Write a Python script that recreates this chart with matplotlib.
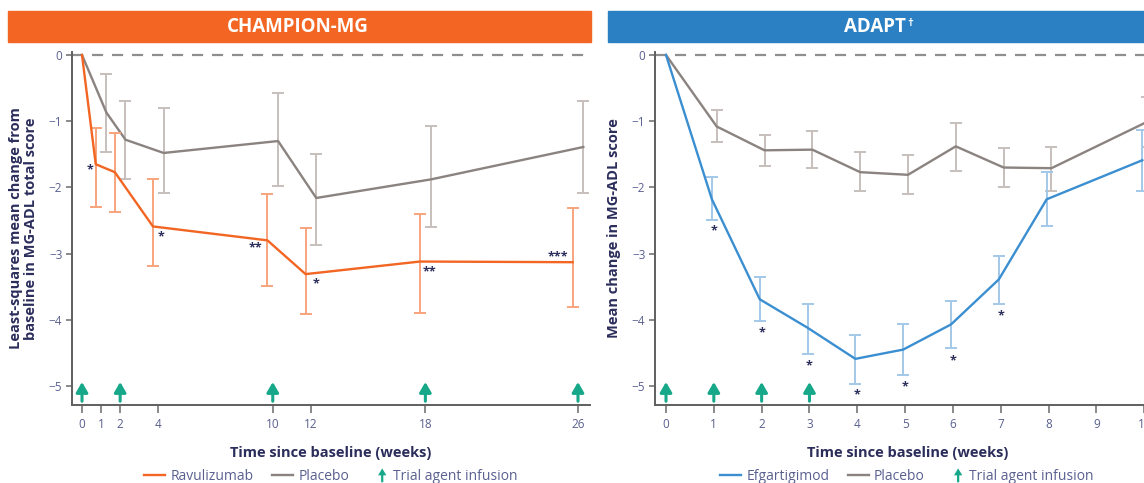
import numpy as np
import matplotlib.pyplot as plt
import matplotlib.patches as mpatches
from matplotlib.lines import Line2D
from matplotlib.legend_handler import HandlerPatch

plt.rcParams['font.family'] = ['Open Sans', 'DejaVu Sans']

# ---- CHAMPION-MG (ravulizumab vs placebo) ----
champ_weeks = [0, 1, 2, 4, 10, 12, 18, 26]
ravu_mean = [0, -1.65, -1.77, -2.59, -2.80, -3.31, -3.12, -3.13]
ravu_hi = [0, -1.10, -1.18, -1.88, -2.10, -2.62, -2.40, -2.31]
ravu_lo = [0, -2.29, -2.37, -3.19, -3.49, -3.92, -3.89, -3.80]
champ_pbo_mean = [0, -0.87, -1.28, -1.48, -1.30, -2.16, -1.88, -1.39]
champ_pbo_hi = [0, -0.29, -0.69, -0.80, -0.57, -1.49, -1.08, -0.69]
champ_pbo_lo = [0, -1.47, -1.88, -2.08, -1.98, -2.87, -2.60, -2.08]
champ_infusions = [0, 2, 10, 18, 26]
champ_ticks = [0, 1, 2, 4, 10, 12, 18, 26]
champ_stars = ['*', '*', '**', '*', '**', '***']
champ_star_x = [0.40, 4.16, 9.1, 12.27, 18.2, 24.96]
champ_star_y = [-1.74, -2.75, -2.91, -3.45, -3.27, -3.05]

# ---- ADAPT (efgartigimod vs placebo) ----
adapt_weeks = [0, 1, 2, 3, 4, 5, 6, 7, 8, 10]
efg_mean = [0, -2.18, -3.69, -4.12, -4.59, -4.45, -4.07, -3.39, -2.18, -1.59]
efg_hi = [0, -1.84, -3.35, -3.76, -4.23, -4.07, -3.72, -3.04, -1.77, -1.13]
efg_lo = [0, -2.49, -4.02, -4.52, -4.97, -4.84, -4.43, -3.76, -2.58, -2.06]
adapt_pbo_mean = [0, -1.08, -1.44, -1.43, -1.77, -1.81, -1.38, -1.70, -1.71, -1.01]
adapt_pbo_hi = [0, -0.83, -1.21, -1.15, -1.47, -1.51, -1.03, -1.40, -1.39, -0.63]
adapt_pbo_lo = [0, -1.31, -1.67, -1.71, -2.06, -2.10, -1.76, -2.00, -2.05, -1.39]
adapt_infusions = [0, 1, 2, 3]
adapt_ticks = list(range(0, 11))
adapt_stars = ['*'] * 7
adapt_star_x = [1, 2, 3, 4, 5, 6, 7]
adapt_star_y = [-2.66, -4.20, -4.70, -5.14, -5.02, -4.62, -3.94]

ORANGE = '#f26522'
ORANGE_LT = '#f7a47c'
BLUE = '#3b8fd1'
BLUE_LT = '#a3c8e8'
GREY = '#8a8380'
GREY_LT = '#c7bfbc'
TEAL = '#17a88a'
NAVY = '#2b2d5b'
TICKLAB = '#5a6090'
SPINE = '#5f5f5f'

W, H = 1144, 483
fig = plt.figure(figsize=(W / 100, H / 100), dpi=100)


def px_axes(x0, y0, x1, y1):
    # pixel box (from top-left) -> figure axes
    return fig.add_axes([x0 / W, 1 - y1 / H, (x1 - x0) / W, (y1 - y0) / H])


def draw_series(ax, weeks, mean, hi, lo, color, ecolor, dx, z):
    x = np.array([w + dx if w > 0 else w for w in weeks], dtype=float)
    m = np.array(mean)
    ax.errorbar(x[1:], m[1:], yerr=[m[1:] - np.array(lo[1:]), np.array(hi[1:]) - m[1:]],
                fmt='none', ecolor=ecolor, elinewidth=1.4, capsize=4.5, capthick=1.4, zorder=z)
    ax.plot(x, m, color=color, lw=1.7, zorder=z + 1)


def style_axes(ax, xlim, ticks, ylabel):
    ax.set_xlim(*xlim)
    ax.set_ylim(-5.287, 0.045)
    ax.set_xticks(ticks)
    ax.set_yticks([0, -1, -2, -3, -4, -5])
    for s in ['top', 'right']:
        ax.spines[s].set_visible(False)
    for s in ['left', 'bottom']:
        ax.spines[s].set_color(SPINE)
        ax.spines[s].set_linewidth(1.4)
    ax.tick_params(axis='x', length=6, width=1.4, color='#8a8a8a', labelcolor=TICKLAB,
                   labelsize=8.5, pad=3)
    ax.tick_params(axis='y', length=4, width=1.4, color='#8a8a8a', labelcolor=TICKLAB,
                   labelsize=8.5, pad=3)
    ax.axhline(0, color='#8e8e8e', lw=1.6, ls=(0, (5, 4)), zorder=1)
    ax.set_xlabel('Time since baseline (weeks)', fontsize=10.5, fontweight='bold',
                  color=NAVY, labelpad=11)
    ax.set_ylabel(ylabel, fontsize=10.5, fontweight='bold', color=NAVY, labelpad=8,
                  linespacing=1.05)


def draw_infusions(ax, weeks):
    for w in weeks:
        ax.annotate('', xy=(w, -4.94), xytext=(w, -5.23),
                    arrowprops=dict(arrowstyle='-|>,head_width=0.35,head_length=0.6',
                                    color=TEAL, lw=2.2, shrinkA=0, shrinkB=0), zorder=5)


def draw_stars(ax, xs, ys, labels):
    for x, y, t in zip(xs, ys, labels):
        ax.text(x, y, t, ha='center', va='center', fontsize=9, fontweight='bold',
                color=NAVY, zorder=6)


def arrow_patch(legend, orig_handle, xdescent, ydescent, width, height, fontsize):
    return mpatches.FancyArrow(width - 4 - xdescent, -ydescent - 2, 0, height + 3,
                               width=1.6, head_width=6, head_length=5,
                               length_includes_head=True)


def add_legend(ax, trt_label, trt_color, cx):
    handles = [Line2D([], [], color=trt_color, lw=1.7),
               Line2D([], [], color=GREY, lw=1.7),
               mpatches.Patch(facecolor=TEAL, edgecolor='none')]
    labels = [trt_label, 'Placebo', 'Trial agent infusion']
    ax.legend(handles, labels, loc='center', bbox_to_anchor=(cx / W, 1 - 476 / H),
              bbox_transform=fig.transFigure, ncol=3, frameon=False, fontsize=10,
              labelcolor=TICKLAB, handlelength=1.5, handletextpad=0.4, columnspacing=1.3,
              handler_map={mpatches.Patch: HandlerPatch(patch_func=arrow_patch)})


# header bars
fig.patches.append(mpatches.Rectangle((8 / W, 1 - 42 / H), (591 - 8) / W, 31 / H,
                                      transform=fig.transFigure, color=ORANGE))
fig.patches.append(mpatches.Rectangle((608 / W, 1 - 42 / H), (W - 608) / W, 31 / H,
                                      transform=fig.transFigure, color='#2a80c3'))
fig.text(298 / W, 1 - 27 / H, 'CHAMPION-MG', ha='center', va='center', color='white',
         fontsize=13.5, fontweight='bold')
fig.text(906 / W, 1 - 27 / H, 'ADAPT', ha='right', va='center', color='white',
         fontsize=13.5, fontweight='bold')
fig.text(907 / W, 1 - 23 / H, '†', ha='left', va='center', color='white',
         fontsize=8, fontweight='bold')

# left panel
ax1 = px_axes(72, 52, 590, 405)
draw_series(ax1, champ_weeks, champ_pbo_mean, champ_pbo_hi, champ_pbo_lo, GREY, GREY_LT, 0.28, 2)
draw_series(ax1, champ_weeks, ravu_mean, ravu_hi, ravu_lo, ORANGE, ORANGE_LT, -0.28, 3)
style_axes(ax1, (-0.524, 26.63), champ_ticks,
           'Least-squares mean change from\nbaseline in MG-ADL total score')
draw_infusions(ax1, champ_infusions)
draw_stars(ax1, champ_star_x, champ_star_y, champ_stars)
add_legend(ax1, 'Ravulizumab', ORANGE, 331)

# right panel (runs past the figure edge, like the source)
ax2 = px_axes(655, 52, 1160, 405)
draw_series(ax2, adapt_weeks, adapt_pbo_mean, adapt_pbo_hi, adapt_pbo_lo, GREY, GREY_LT, 0.06, 2)
draw_series(ax2, adapt_weeks, efg_mean, efg_hi, efg_lo, BLUE, BLUE_LT, -0.04, 3)
style_axes(ax2, (-0.23, 10.33), adapt_ticks, 'Mean change in MG-ADL score')
draw_infusions(ax2, adapt_infusions)
draw_stars(ax2, adapt_star_x, adapt_star_y, adapt_stars)
add_legend(ax2, 'Efgartigimod', BLUE, 907)

fig.savefig('out.png', dpi=100)
